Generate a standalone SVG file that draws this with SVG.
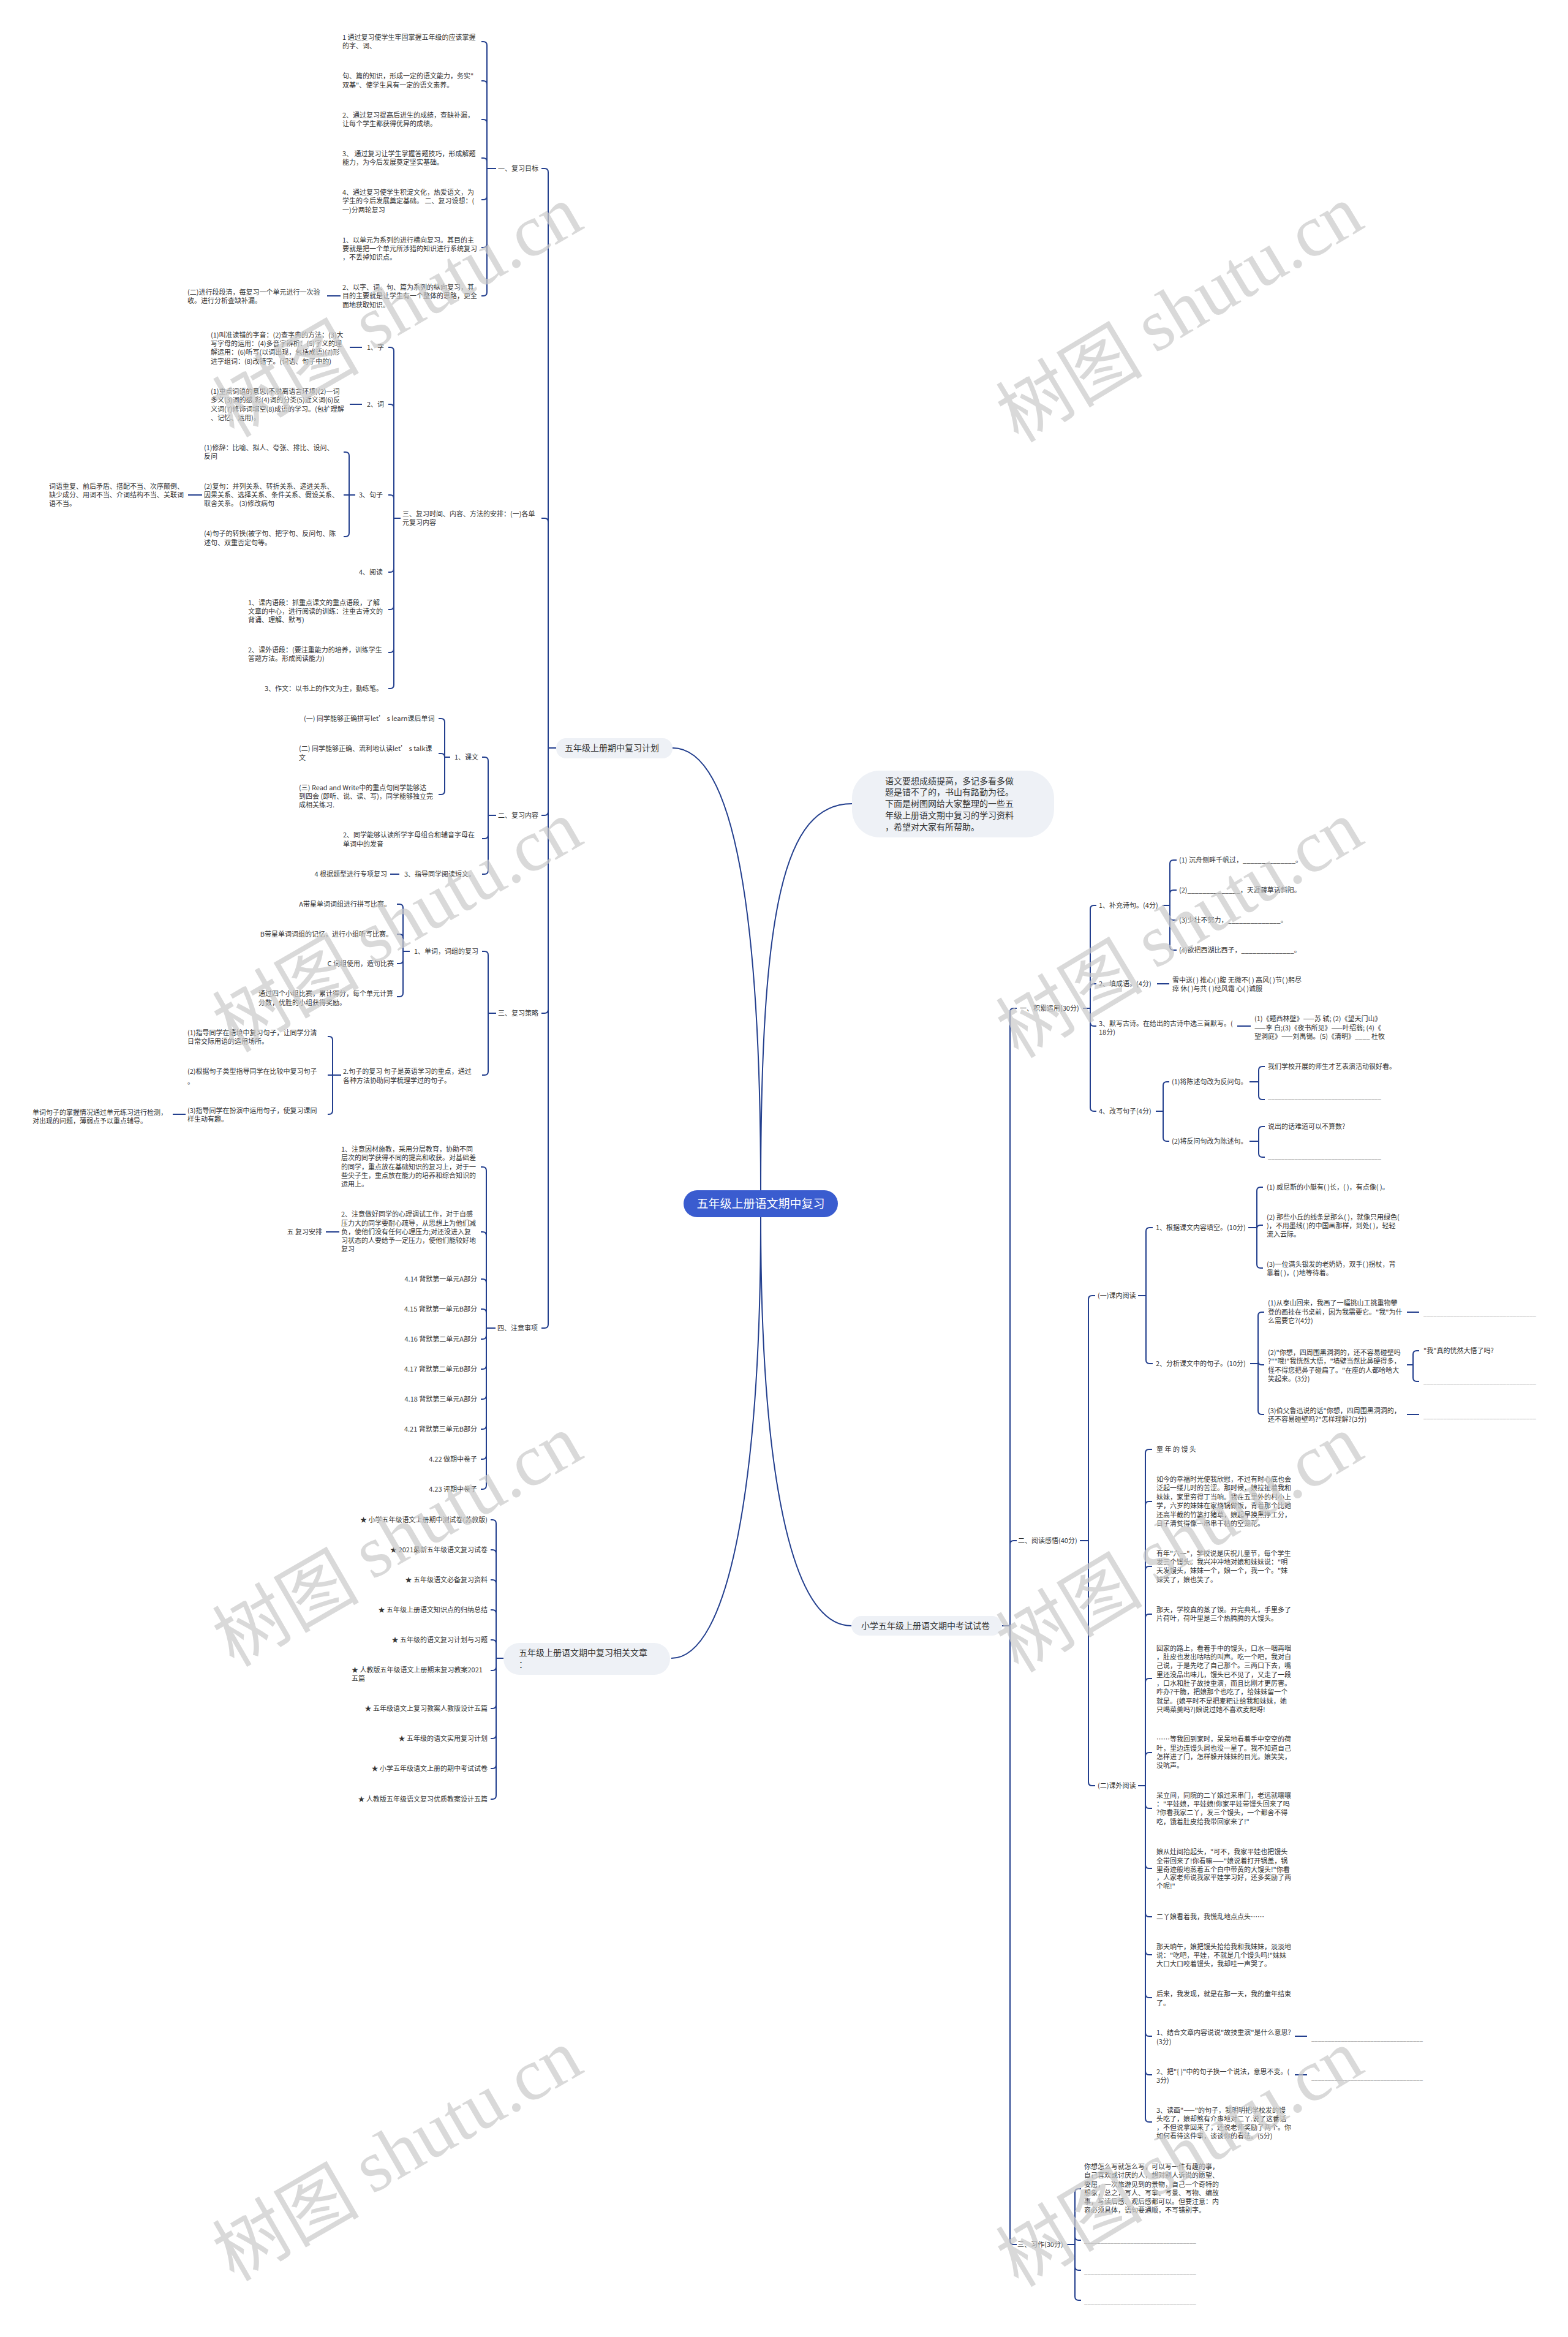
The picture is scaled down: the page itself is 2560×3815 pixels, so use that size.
<svg xmlns="http://www.w3.org/2000/svg" width="2560" height="3815" viewBox="0 0 2560 3815">
<style>
text { font-family: "Noto Sans CJK SC", "Noto Sans", sans-serif; font-size: 11px; fill: #333; }
.e { text-anchor: end; }
.m { font-size: 14px; }
.rt { font-size: 19px; fill: #fff; text-anchor: middle; }
.bl { fill: #999; }
.nd { fill: #eef1f6; }
#connectors path { fill: none; stroke: #233f8e; stroke-width: 2; }
.wm text { font-size: 120px; fill: #c9c9c9; fill-opacity: 0.7; text-anchor: middle; dominant-baseline: central; }
</style>
<rect width="2560" height="3815" fill="#fff"/>
<g id="connectors">
<path d="M1242 1943C1242 1500 1200 1221 1098 1221"/>
<path d="M1242 1943C1242 1480 1280 1312 1391 1312"/>
<path d="M1242 1987C1242 2420 1190 2707 1096 2707"/>
<path d="M1242 1987C1242 2400 1290 2654 1390 2654"/>
<path d="M908 1221H895V281Q895 275 889 275H884"/>
<path d="M908 1221H895V852Q895 846 889 846H884"/>
<path d="M908 1221H895V1325Q895 1331 889 1331H884"/>
<path d="M908 1221H895V1648Q895 1654 889 1654H884"/>
<path d="M908 1221H895V2162Q895 2168 889 2168H884"/>
<path d="M810 275H795V74Q795 68 789 68H786"/>
<path d="M810 275H795V138Q795 132 789 132H786"/>
<path d="M810 275H795V201Q795 195 789 195H786"/>
<path d="M810 275H795V264Q795 258 789 258H786"/>
<path d="M810 275H795V320Q795 326 789 326H786"/>
<path d="M810 275H795V398Q795 404 789 404H786"/>
<path d="M810 275H795V477Q795 483 789 483H786"/>
<path d="M556 483H534"/>
<path d="M654 846H643V573Q643 567 637 567H634"/>
<path d="M654 846H643V666Q643 660 637 660H634"/>
<path d="M654 846H643V814Q643 808 637 808H634"/>
<path d="M654 846H643V928Q643 934 637 934H634"/>
<path d="M654 846H643V989Q643 995 637 995H634"/>
<path d="M654 846H643V1059Q643 1065 637 1065H634"/>
<path d="M654 846H643V1118Q643 1124 637 1124H634"/>
<path d="M591 567H571"/>
<path d="M591 660H571"/>
<path d="M580 808H570V744Q570 738 564 738H561"/>
<path d="M580 808H561"/>
<path d="M580 808H570V870Q570 876 564 876H561"/>
<path d="M330 808H307"/>
<path d="M810 1331H797V1242Q797 1236 791 1236H787"/>
<path d="M810 1331H797V1363Q797 1369 791 1369H787"/>
<path d="M810 1331H797V1421Q797 1427 791 1427H787"/>
<path d="M735 1236H726V1179Q726 1173 720 1173H716"/>
<path d="M735 1236H726Q726 1230 720 1230H716"/>
<path d="M735 1236H726V1291Q726 1297 720 1297H716"/>
<path d="M652 1427H637"/>
<path d="M810 1654H797V1559Q797 1553 791 1553H787"/>
<path d="M810 1654H797V1749Q797 1755 791 1755H787"/>
<path d="M669 1553H658V1482Q658 1476 652 1476H648"/>
<path d="M669 1553H658V1531Q658 1525 652 1525H648"/>
<path d="M669 1553H658V1567Q658 1573 652 1573H648"/>
<path d="M669 1553H658V1621Q658 1627 652 1627H648"/>
<path d="M557 1755H543V1698Q543 1692 537 1692H535"/>
<path d="M557 1755H535"/>
<path d="M557 1755H543V1813Q543 1819 537 1819H535"/>
<path d="M303 1819H282"/>
<path d="M809 2168H794V1911Q794 1905 788 1905H785"/>
<path d="M809 2168H794V2017Q794 2011 788 2011H785"/>
<path d="M809 2168H794V2094Q794 2088 788 2088H785"/>
<path d="M809 2168H794V2143Q794 2137 788 2137H785"/>
<path d="M809 2168H794V2180Q794 2186 788 2186H785"/>
<path d="M809 2168H794V2229Q794 2235 788 2235H785"/>
<path d="M809 2168H794V2278Q794 2284 788 2284H785"/>
<path d="M809 2168H794V2327Q794 2333 788 2333H785"/>
<path d="M809 2168H794V2376Q794 2382 788 2382H785"/>
<path d="M809 2168H794V2425Q794 2431 788 2431H785"/>
<path d="M554 2011H532"/>
<path d="M822 2707H810V2487Q810 2481 804 2481H801"/>
<path d="M822 2707H810V2536Q810 2530 804 2530H801"/>
<path d="M822 2707H810V2585Q810 2579 804 2579H801"/>
<path d="M822 2707H810V2634Q810 2628 804 2628H801"/>
<path d="M822 2707H810V2683Q810 2677 804 2677H801"/>
<path d="M822 2707H810V2721Q810 2727 804 2727H801"/>
<path d="M822 2707H810V2783Q810 2789 804 2789H801"/>
<path d="M822 2707H810V2832Q810 2838 804 2838H801"/>
<path d="M822 2707H810V2881Q810 2887 804 2887H801"/>
<path d="M822 2707H810V2931Q810 2937 804 2937H801"/>
<path d="M1636 2654H1649V1652Q1649 1646 1655 1646H1660"/>
<path d="M1636 2654H1649V2521Q1649 2515 1655 2515H1660"/>
<path d="M1636 2654H1649V3658Q1649 3664 1655 3664H1660"/>
<path d="M1768 1646H1780V1484Q1780 1478 1786 1478H1790"/>
<path d="M1768 1646H1780V1612Q1780 1606 1786 1606H1790"/>
<path d="M1768 1646H1780V1669Q1780 1675 1786 1675H1790"/>
<path d="M1768 1646H1780V1808Q1780 1814 1786 1814H1790"/>
<path d="M1898 1478H1910V1410Q1910 1404 1916 1404H1921"/>
<path d="M1898 1478H1910V1459Q1910 1453 1916 1453H1921"/>
<path d="M1898 1478H1910V1496Q1910 1502 1916 1502H1921"/>
<path d="M1898 1478H1910V1545Q1910 1551 1916 1551H1921"/>
<path d="M1889 1606H1909"/>
<path d="M2020 1675H2042"/>
<path d="M1887 1814H1899V1772Q1899 1766 1905 1766H1909"/>
<path d="M1887 1814H1899V1857Q1899 1863 1905 1863H1909"/>
<path d="M2040 1766H2055V1747Q2055 1741 2061 1741H2065"/>
<path d="M2040 1766H2055V1789Q2055 1795 2061 1795H2065"/>
<path d="M2040 1863H2055V1845Q2055 1839 2061 1839H2065"/>
<path d="M2040 1863H2055V1883Q2055 1889 2061 1889H2065"/>
<path d="M1763 2515H1777V2121Q1777 2115 1783 2115H1788"/>
<path d="M1763 2515H1777V2909Q1777 2915 1783 2915H1788"/>
<path d="M1858 2115H1871V2010Q1871 2004 1877 2004H1882"/>
<path d="M1858 2115H1871V2220Q1871 2226 1877 2226H1882"/>
<path d="M2038 2004H2052V1944Q2052 1938 2058 1938H2062"/>
<path d="M2038 2004H2052V2006Q2052 2000 2058 2000H2062"/>
<path d="M2038 2004H2052V2064Q2052 2070 2058 2070H2062"/>
<path d="M2041 2226H2054V2148Q2054 2142 2060 2142H2064"/>
<path d="M2041 2226H2054V2222Q2054 2228 2060 2228H2064"/>
<path d="M2041 2226H2054V2303Q2054 2309 2060 2309H2064"/>
<path d="M2297 2142H2317"/>
<path d="M2297 2228H2307V2211Q2307 2205 2313 2205H2317"/>
<path d="M2297 2228H2307V2249Q2307 2255 2313 2255H2317"/>
<path d="M2297 2309H2317"/>
<path d="M1858 2915H1870V2372Q1870 2366 1876 2366H1881"/>
<path d="M1858 2915H1870V2457Q1870 2451 1876 2451H1881"/>
<path d="M1858 2915H1870V2563Q1870 2557 1876 2557H1881"/>
<path d="M1858 2915H1870V2641Q1870 2635 1876 2635H1881"/>
<path d="M1858 2915H1870V2746Q1870 2740 1876 2740H1881"/>
<path d="M1858 2915H1870V2867Q1870 2861 1876 2861H1881"/>
<path d="M1858 2915H1870V2946Q1870 2952 1876 2952H1881"/>
<path d="M1858 2915H1870V3044Q1870 3050 1876 3050H1881"/>
<path d="M1858 2915H1870V3123Q1870 3129 1876 3129H1881"/>
<path d="M1858 2915H1870V3185Q1870 3191 1876 3191H1881"/>
<path d="M1858 2915H1870V3255Q1870 3261 1876 3261H1881"/>
<path d="M1858 2915H1870V3318Q1870 3324 1876 3324H1881"/>
<path d="M1858 2915H1870V3381Q1870 3387 1876 3387H1881"/>
<path d="M1858 2915H1870V3458Q1870 3464 1876 3464H1881"/>
<path d="M2114 3324H2134"/>
<path d="M2114 3387H2134"/>
<path d="M1742 3664H1755V3579Q1755 3573 1761 3573H1765"/>
<path d="M1742 3664H1755V3651Q1755 3657 1761 3657H1765"/>
<path d="M1742 3664H1755V3700Q1755 3706 1761 3706H1765"/>
<path d="M1742 3664H1755V3749Q1755 3755 1761 3755H1765"/>
</g>

<g id="root"><rect x="1116" y="1943" width="252" height="44" rx="22" fill="#3a5ccf"/><text class="rt" x="1242" y="1972">五年级上册语文期中复习</text></g>

<g id="plan"><rect class="nd" x="908" y="1205" width="190" height="33" rx="16"/><text class="m" x="922" y="1226">五年级上册期中复习计划</text></g>
<g id="intro"><rect class="nd" x="1391" y="1258" width="330" height="109" rx="45"/><text class="m"><tspan x="1445" y="1280">语文要想成绩提高，多记多看多做</tspan><tspan x="1445" y="1298">题是错不了的，书山有路勤为径。</tspan><tspan x="1445" y="1317">下面是树图网给大家整理的一些五</tspan><tspan x="1445" y="1336">年级上册语文期中复习的学习资料</tspan><tspan x="1445" y="1355">，希望对大家有所帮助。</tspan></text></g>
<g id="exam"><rect class="nd" x="1390" y="2638" width="246" height="32" rx="16"/><text class="m" x="1406" y="2659">小学五年级上册语文期中考试试卷</text></g>
<g id="related"><rect class="nd" x="822" y="2682" width="272" height="52" rx="26"/><text class="m"><tspan x="847" y="2703">五年级上册语文期中复习相关文章</tspan><tspan x="847" y="2722">：</tspan></text></g>

<g id="goal"><text class="e" x="879" y="279">一、复习目标</text></g>
<g id="goal1"><text><tspan x="559" y="65">1 通过复习使学生牢固掌握五年级的应该掌握</tspan><tspan x="559" y="79">的字、词、</tspan></text></g>
<g id="goal2"><text><tspan x="559" y="128">句、篇的知识，形成一定的语文能力，务实"</tspan><tspan x="559" y="143">双基"、使学生具有一定的语文素养。</tspan></text></g>
<g id="goal3"><text><tspan x="559" y="192">2、通过复习提高后进生的成绩，查缺补漏，</tspan><tspan x="559" y="206">让每个学生都获得优异的成绩。</tspan></text></g>
<g id="goal4"><text><tspan x="559" y="255">3、 通过复习让学生掌握答题技巧，形成解题</tspan><tspan x="559" y="269">能力，为今后发展奠定坚实基础。</tspan></text></g>
<g id="goal5"><text><tspan x="559" y="318">4、通过复习使学生积淀文化，热爱语文，为</tspan><tspan x="559" y="332">学生的今后发展奠定基础。 二、复习设想：(</tspan><tspan x="559" y="347">一)分两轮复习</tspan></text></g>
<g id="goal6"><text><tspan x="559" y="396">1、以单元为系列的进行横向复习。其目的主</tspan><tspan x="559" y="410">要就是把一个单元所涉猎的知识进行系统复习</tspan><tspan x="559" y="424">，不丢掉知识点。</tspan></text></g>
<g id="goal7"><text><tspan x="559" y="473">2、以字、词、句、篇为系列的纵向复习，其</tspan><tspan x="559" y="487">目的主要就是让学生有一个整体的思路，更全</tspan><tspan x="559" y="502">面地获取知识。</tspan></text></g>
<g id="goal7a"><text><tspan x="306" y="481">(二)进行段段清，每复习一个单元进行一次验</tspan><tspan x="306" y="495">收。进行分析查缺补漏。</tspan></text></g>

<g id="arr"><text><tspan x="657" y="843">三、复习时间、内容、方法的安排：(一)各单</tspan><tspan x="657" y="857">元复习内容</tspan></text></g>
<g id="zi"><text class="e" x="627" y="571">1、字</text></g>
<g id="zi1"><text><tspan x="344" y="551">(1)叫准读错的字音：(2)查字典的方法：(3)大</tspan><tspan x="344" y="565">写字母的运用：(4)多音字辨析：(5)字义的理</tspan><tspan x="344" y="579">解运用：(6)听写(以词出现，包括成语)(7)形</tspan><tspan x="344" y="594">进字组词：(8)改错字。(词语、句子中的)</tspan></text></g>
<g id="ci"><text class="e" x="627" y="664">2、词</text></g>
<g id="ci1"><text><tspan x="344" y="643">(1)重点词语的意思(不脱离语言环境)(2)一词</tspan><tspan x="344" y="657">多义(3)词的感.彩(4)词的分类(5)近义词(6)反</tspan><tspan x="344" y="672">义词(7)修饰词填空(8)成语的学习。(包扩理解</tspan><tspan x="344" y="686">、记忆、运用)。</tspan></text></g>
<g id="ju"><text class="e" x="625" y="812">3、句子</text></g>
<g id="ju1"><text><tspan x="333" y="735">(1)修辞：比喻、拟人、夸张、排比、设问、</tspan><tspan x="333" y="749">反问</tspan></text></g>
<g id="ju2"><text><tspan x="333" y="798">(2)复句：并列关系、转折关系、递进关系、</tspan><tspan x="333" y="812">因果关系、选择关系、条件关系、假设关系、</tspan><tspan x="333" y="826">取舍关系。 (3)修改病句</tspan></text></g>
<g id="ju2a"><text><tspan x="80" y="798">词语重复、前后矛盾、搭配不当、次序颠倒、</tspan><tspan x="80" y="812">缺少成分、用词不当、介词结构不当、关联词</tspan><tspan x="80" y="826">语不当。</tspan></text></g>
<g id="ju3"><text><tspan x="333" y="875">(4)句子的转换(被字句、把字句、反问句、陈</tspan><tspan x="333" y="890">述句、双重否定句等。</tspan></text></g>
<g id="yd"><text class="e" x="625" y="938">4、阅读</text></g>
<g id="kn"><text><tspan x="405" y="988">1、课内语段：抓重点课文的重点语段，了解</tspan><tspan x="405" y="1002">文章的中心，进行阅读的训练：注重古诗文的</tspan><tspan x="405" y="1016">背诵、理解、默写)</tspan></text></g>
<g id="kw"><text><tspan x="405" y="1065">2、课外语段：(要注重能力的培养，训练学生</tspan><tspan x="405" y="1079">答题方法。形成阅读能力)</tspan></text></g>
<g id="zw"><text class="e" x="625" y="1128">3、作文：以书上的作文为主，勤练笔。</text></g>

<g id="content"><text class="e" x="879" y="1335">二、复习内容</text></g>
<g id="kewen"><text class="e" x="781" y="1240">1、课文</text></g>
<g id="kw1"><text x="496" y="1177">(一) 同学能够正确拼写let’ s learn课后单词</text></g>
<g id="kw2"><text><tspan x="488" y="1226">(二) 同学能够正确、流利地认读let’ s talk课</tspan><tspan x="488" y="1241">文</tspan></text></g>
<g id="kw3"><text><tspan x="488" y="1290">(三) Read and Write中的重点句同学能够达</tspan><tspan x="488" y="1304">到四会 (即听、说、读、写)，同学能够独立完</tspan><tspan x="488" y="1318">成相关练习.</tspan></text></g>
<g id="c2"><text><tspan x="560" y="1367">2、同学能够认读所学字母组合和辅音字母在</tspan><tspan x="560" y="1382">单词中的发音</tspan></text></g>
<g id="c3"><text class="e" x="776" y="1431">3、指导同学阅读短文。</text></g>
<g id="c3a"><text class="e" x="632" y="1431">4 根据题型进行专项复习</text></g>

<g id="strategy"><text class="e" x="879" y="1658">三、复习策略</text></g>
<g id="s1"><text class="e" x="781" y="1557">1、单词，词组的复习</text></g>
<g id="s1a"><text class="e" x="638" y="1480">A带星单词词组进行拼写比赛。</text></g>
<g id="s1b"><text class="e" x="641" y="1529">B带星单词词组的记忆，进行小组听写比赛。</text></g>
<g id="s1c"><text class="e" x="643" y="1577">C 词组使用，造句比赛</text></g>
<g id="s1d"><text><tspan x="422" y="1626">通过四个小组比赛，累计得分，每个单元计算</tspan><tspan x="422" y="1641">分数，优胜的小组获得奖励。</tspan></text></g>
<g id="s2"><text><tspan x="560" y="1753">2.句子的复习 句子是英语学习的重点，通过</tspan><tspan x="560" y="1768">各种方法协助同学梳理学过的句子。</tspan></text></g>
<g id="s2a"><text><tspan x="306" y="1690">(1)指导同学在语境中复习句子，让同学分清</tspan><tspan x="306" y="1704">日常交际用语的运用场所。</tspan></text></g>
<g id="s2b"><text><tspan x="306" y="1753">(2)根据句子类型指导同学在比较中复习句子</tspan><tspan x="306" y="1770">。</tspan></text></g>
<g id="s2c"><text><tspan x="306" y="1817">(3)指导同学在扮演中运用句子，使复习课同</tspan><tspan x="306" y="1831">样生动有趣。</tspan></text></g>
<g id="s2c1"><text><tspan x="53" y="1820">单词句子的掌握情况通过单元练习进行检测，</tspan><tspan x="53" y="1834">对出现的问题，薄弱点予以重点辅导。</tspan></text></g>

<g id="notice"><text class="e" x="878" y="2172">四、注意事项</text></g>
<g id="n1"><text><tspan x="557" y="1880">1、注意因材施教，采用分层教育，协助不同</tspan><tspan x="557" y="1894">层次的同学获得不同的提高和收获。对基础差</tspan><tspan x="557" y="1909">的同学，重点放在基础知识的复习上，对于一</tspan><tspan x="557" y="1923">些尖子生，重点放在能力的培养和综合知识的</tspan><tspan x="557" y="1937">运用上。</tspan></text></g>
<g id="n2"><text><tspan x="557" y="1986">2、注意做好同学的心理调试工作，对于自感</tspan><tspan x="557" y="2001">压力大的同学要耐心疏导，从思想上为他们减</tspan><tspan x="557" y="2015">负，使他们没有任何心理压力;对还没进入复</tspan><tspan x="557" y="2029">习状态的人要给予一定压力，使他们能较好地</tspan><tspan x="557" y="2043">复习</tspan></text></g>
<g id="n2a"><text class="e" x="526" y="2015">五 复习安排</text></g>
<g id="d1"><text class="e" x="779" y="2092">4.14 背默第一单元A部分</text></g>
<g id="d2"><text class="e" x="779" y="2141">4.15 背默第一单元B部分</text></g>
<g id="d3"><text class="e" x="779" y="2190">4.16 背默第二单元A部分</text></g>
<g id="d4"><text class="e" x="779" y="2239">4.17 背默第二单元B部分</text></g>
<g id="d5"><text class="e" x="779" y="2288">4.18 背默第三单元A部分</text></g>
<g id="d6"><text class="e" x="779" y="2337">4.21 背默第三单元B部分</text></g>
<g id="d7"><text class="e" x="779" y="2386">4.22 做期中卷子</text></g>
<g id="d8"><text class="e" x="779" y="2435">4.23 评期中卷子</text></g>

<g id="r1"><text class="e" x="796" y="2485">★ 小学五年级语文上册期中测试卷(苏教版)</text></g>
<g id="r2"><text class="e" x="796" y="2534">★ 2021最新五年级语文复习试卷</text></g>
<g id="r3"><text class="e" x="796" y="2583">★ 五年级语文必备复习资料</text></g>
<g id="r4"><text class="e" x="796" y="2632">★ 五年级上册语文知识点的归纳总结</text></g>
<g id="r5"><text class="e" x="796" y="2681">★ 五年级的语文复习计划与习题</text></g>
<g id="r6"><text><tspan x="574" y="2730">★ 人教版五年级语文上册期末复习教案2021</tspan><tspan x="574" y="2744">五篇</tspan></text></g>
<g id="r7"><text class="e" x="796" y="2793">★ 五年级语文上复习教案人教版设计五篇</text></g>
<g id="r8"><text class="e" x="796" y="2842">★ 五年级的语文实用复习计划</text></g>
<g id="r9"><text class="e" x="796" y="2891">★ 小学五年级语文上册的期中考试试卷</text></g>
<g id="r10"><text class="e" x="796" y="2941">★ 人教版五年级语文复习优质教案设计五篇</text></g>

<g id="p1"><text x="1665" y="1650">一、积累运用(30分)</text></g>
<g id="p11"><text x="1794" y="1482">1、补充诗句。(4分)</text></g>
<g id="p11a"><text x="1925" y="1408">(1) 沉舟侧畔千帆过，______________。</text></g>
<g id="p11b"><text x="1925" y="1457">(2)______________，天涯碧草话斜阳。</text></g>
<g id="p11c"><text x="1925" y="1506">(3)少壮不努力，______________。</text></g>
<g id="p11d"><text x="1925" y="1555">(4)欲把西湖比西子，______________。</text></g>
<g id="p12"><text x="1794" y="1610">2、填成语。(4分)</text></g>
<g id="p12a"><text><tspan x="1914" y="1604">雪中送( ) 推心( )腹 无微不( ) 高风( )节( )躬尽</tspan><tspan x="1914" y="1618">瘁 休( )与共 ( )经风霜 心( )诚服</tspan></text></g>
<g id="p13"><text><tspan x="1794" y="1675">3、默写古诗。在给出的古诗中选三首默写。(</tspan><tspan x="1794" y="1689">18分)</tspan></text></g>
<g id="p13a"><text><tspan x="2048" y="1667">(1)《题西林壁》——苏 轼; (2)《望天门山》</tspan><tspan x="2048" y="1682">——李 白;(3)《夜书所见》——叶绍翁; (4)《</tspan><tspan x="2048" y="1696">望洞庭》——刘禹锡。(5)《清明》____ 杜牧</tspan></text></g>
<g id="p14"><text x="1794" y="1818">4、改写句子(4分)</text></g>
<g id="p14a"><text x="1913" y="1770">(1)将陈述句改为反问句。</text></g>
<g id="p14a1"><text x="2070" y="1745">我们学校开展的师生才艺表演活动很好看。</text></g>
<g id="p14a2"><text class="bl" x="2070" y="1793" textLength="185" lengthAdjust="spacingAndGlyphs">__________________________________</text></g>
<g id="p14b"><text x="1913" y="1867">(2)将反问句改为陈述句。</text></g>
<g id="p14b1"><text x="2070" y="1843">说出的话难道可以不算数?</text></g>
<g id="p14b2"><text class="bl" x="2070" y="1891" textLength="185" lengthAdjust="spacingAndGlyphs">__________________________________</text></g>

<g id="p2"><text x="1662" y="2519">二、阅读感悟(40分)</text></g>
<g id="p21"><text x="1792" y="2119">(一)课内阅读</text></g>
<g id="p211"><text x="1887" y="2008">1、根据课文内容填空。(10分)</text></g>
<g id="p211a"><text x="2068" y="1942">(1) 威尼斯的小艇有( )长，( )，有点像( )。</text></g>
<g id="p211b"><text><tspan x="2068" y="1991">(2) 那些小丘的线条是那么( )，就像只用绿色(</tspan><tspan x="2068" y="2005">)，不用墨线( )的中国画那样，到处( )，轻轻</tspan><tspan x="2068" y="2019">流入云际。</tspan></text></g>
<g id="p211c"><text><tspan x="2068" y="2068">(3)一位满头银发的老奶奶，双手( )拐杖，背</tspan><tspan x="2068" y="2082">靠着( )，( )地等待着。</tspan></text></g>
<g id="p212"><text x="1887" y="2230">2、分析课文中的句子。(10分)</text></g>
<g id="p212a"><text><tspan x="2070" y="2131">(1)从泰山回来，我画了一幅挑山工挑重物攀</tspan><tspan x="2070" y="2146">登的画挂在书桌前，因为我需要它。"我"为什</tspan><tspan x="2070" y="2160">么需要它?(4分)</tspan></text></g>
<g id="p212a1"><text class="bl" x="2324" y="2147" textLength="184" lengthAdjust="spacingAndGlyphs">__________________________________</text></g>
<g id="p212b"><text><tspan x="2070" y="2212">(2)"你想，四周围黑洞洞的，还不容易碰壁吗</tspan><tspan x="2070" y="2226">?""哦!"我恍然大悟，"墙壁当然比鼻硬得多，</tspan><tspan x="2070" y="2241">怪不得您把鼻子碰扁了。"在座的人都哈哈大</tspan><tspan x="2070" y="2255">笑起来。(3分)</tspan></text></g>
<g id="p212b1"><text x="2324" y="2209">"我"真的恍然大悟了吗?</text></g>
<g id="p212b2"><text class="bl" x="2324" y="2258" textLength="184" lengthAdjust="spacingAndGlyphs">__________________________________</text></g>
<g id="p212c"><text><tspan x="2070" y="2307">(3)伯父鲁迅说的话"你想，四周围黑洞洞的，</tspan><tspan x="2070" y="2321">还不容易碰壁吗?"怎样理解?(3分)</tspan></text></g>
<g id="p212c1"><text class="bl" x="2324" y="2315" textLength="184" lengthAdjust="spacingAndGlyphs">__________________________________</text></g>

<g id="p22"><text x="1792" y="2919">(二)课外阅读</text></g>
<g id="q1"><text x="1888" y="2370">童 年 的 馒 头</text></g>
<g id="q2"><text><tspan x="1888" y="2419">如今的幸福时光使我欣慰，不过有时心底也会</tspan><tspan x="1888" y="2433">泛起一缕儿时的苦涩。那时候，娘拉扯着我和</tspan><tspan x="1888" y="2448">妹妹，家里穷得丁当响。我在五里外的村小上</tspan><tspan x="1888" y="2462">学，六岁的妹妹在家烧锅做饭，背着那个比她</tspan><tspan x="1888" y="2477">还高半截的竹篓打猪草，娘起早摸黑挣工分，</tspan><tspan x="1888" y="2491">日子清贫得像一串串干枯的空笼花。</tspan></text></g>
<g id="q3"><text><tspan x="1888" y="2540">有年"六一"，学校说是庆祝儿童节，每个学生</tspan><tspan x="1888" y="2554">发三个馒头。我兴冲冲地对娘和妹妹说："明</tspan><tspan x="1888" y="2568">天发馒头，妹妹一个，娘一个，我一个。"妹</tspan><tspan x="1888" y="2583">妹笑了，娘也笑了。</tspan></text></g>
<g id="q4"><text><tspan x="1888" y="2632">那天，学校真的蒸了馍。开完典礼，手里多了</tspan><tspan x="1888" y="2646">片荷叶，荷叶里是三个热腾腾的大馒头。</tspan></text></g>
<g id="q5"><text><tspan x="1888" y="2695">回家的路上，看着手中的馒头，口水一咽再咽</tspan><tspan x="1888" y="2709">，肚皮也发出咕咕的叫声。吃一个吧，我对自</tspan><tspan x="1888" y="2723">己说，于是先吃了自己那个。三两口下去，嘴</tspan><tspan x="1888" y="2738">里还没品出味儿，馒头已不见了，又走了一段</tspan><tspan x="1888" y="2752">，口水和肚子故技重演，而且比刚才更厉害。</tspan><tspan x="1888" y="2766">咋办?干脆，把娘那个也吃了，给妹妹留一个</tspan><tspan x="1888" y="2781">就是。{娘平时不是把麦粑让给我和妹妹，她</tspan><tspan x="1888" y="2795">只喝菜羹吗?}娘说过她不喜欢麦粑呀!</tspan></text></g>
<g id="q6"><text><tspan x="1888" y="2843">……等我回到家时，呆呆地看着手中空空的荷</tspan><tspan x="1888" y="2858">叶，里边连馒头屑也没一星了。我不知道自己</tspan><tspan x="1888" y="2872">怎样进了门，怎样躲开妹妹的目光。娘笑笑，</tspan><tspan x="1888" y="2886">没吭声。</tspan></text></g>
<g id="q7"><text><tspan x="1888" y="2935">呆立间，同院的二丫娘过来串门，老远就嚷嚷</tspan><tspan x="1888" y="2949">："平娃娘，平娃娘!你家平娃带馒头回来了吗</tspan><tspan x="1888" y="2963">?你看我家二丫，发三个馒头，一个都舍不得</tspan><tspan x="1888" y="2978">吃，饿着肚皮给我带回家来了!"</tspan></text></g>
<g id="q8"><text><tspan x="1888" y="3027">娘从灶间抬起头，"可不，我家平娃也把馒头</tspan><tspan x="1888" y="3042">全带回来了!你看嘛——"娘说着打开锅盖，锅</tspan><tspan x="1888" y="3056">里奇迹般地蒸着五个白中带黄的大馒头!"你看</tspan><tspan x="1888" y="3069">，人家老师说我家平娃学习好，还多奖励了两</tspan><tspan x="1888" y="3083">个呢!"</tspan></text></g>
<g id="q9"><text x="1888" y="3133">二丫娘看着我，我慌乱地点点头……</text></g>
<g id="q10"><text><tspan x="1888" y="3182">那天晌午，娘把馒头拾给我和我妹妹，淡淡地</tspan><tspan x="1888" y="3196">说："吃吧，平娃，不就是几个馒头吗!"妹妹</tspan><tspan x="1888" y="3210">大口大口咬着馒头，我却哇一声哭了。</tspan></text></g>
<g id="q11"><text><tspan x="1888" y="3259">后来，我发现，就是在那一天，我的童年结束</tspan><tspan x="1888" y="3274">了。</tspan></text></g>
<g id="q12"><text><tspan x="1888" y="3322">1、结合文章内容说说"故技重演"是什么意思?</tspan><tspan x="1888" y="3337">(3分)</tspan></text></g>
<g id="q12a"><text class="bl" x="2141" y="3331" textLength="182" lengthAdjust="spacingAndGlyphs">__________________________________</text></g>
<g id="q13"><text><tspan x="1888" y="3386">2、把"{ }"中的句子换一个说法，意思不变。(</tspan><tspan x="1888" y="3400">3分)</tspan></text></g>
<g id="q13a"><text class="bl" x="2141" y="3395" textLength="182" lengthAdjust="spacingAndGlyphs">__________________________________</text></g>
<g id="q14"><text><tspan x="1888" y="3449">3、读画"——"的句子，我明明把学校发的馒</tspan><tspan x="1888" y="3463">头吃了，娘却煞有介事地对二丫.说了这番话</tspan><tspan x="1888" y="3477">，不但说拿回来了，还说老师奖励了两个。你</tspan><tspan x="1888" y="3491">如何看待这件事，谈谈你的看法。(5分)</tspan></text></g>

<g id="p3"><text x="1661" y="3668">三、习作(30分)</text></g>
<g id="p3a"><text><tspan x="1770" y="3541">你想怎么写就怎么写，可以写一件有趣的事，</tspan><tspan x="1770" y="3555">自己喜欢或讨厌的人，想对别人诉说的愿望、</tspan><tspan x="1770" y="3570">委屈，一次旅游见到的景物，自己一个奇特的</tspan><tspan x="1770" y="3584">想象，总之，写人、写事、写景、写物、编故</tspan><tspan x="1770" y="3598">事，写读后感、观后感都可以。但要注意：内</tspan><tspan x="1770" y="3612">容必须具体，语句要通顺，不写错别字。</tspan></text></g>
<g id="p3b"><text class="bl" x="1770" y="3661" textLength="183" lengthAdjust="spacingAndGlyphs">__________________________________</text></g>
<g id="p3c"><text class="bl" x="1770" y="3711" textLength="183" lengthAdjust="spacingAndGlyphs">__________________________________</text></g>
<g id="p3d"><text class="bl" x="1770" y="3761" textLength="183" lengthAdjust="spacingAndGlyphs">__________________________________</text></g>

<g class="wm">
<text transform="translate(646 503) rotate(-30)">树图 <tspan font-family="Liberation Serif">shutu.cn</tspan></text>
<text transform="translate(646 1507) rotate(-30)">树图 <tspan font-family="Liberation Serif">shutu.cn</tspan></text>
<text transform="translate(646 2510) rotate(-30)">树图 <tspan font-family="Liberation Serif">shutu.cn</tspan></text>
<text transform="translate(646 3513) rotate(-30)">树图 <tspan font-family="Liberation Serif">shutu.cn</tspan></text>
<text transform="translate(1923 507) rotate(-31)">树图 <tspan font-family="Liberation Serif">shutu.cn</tspan></text>
<text transform="translate(1923 1512) rotate(-31)">树图 <tspan font-family="Liberation Serif">shutu.cn</tspan></text>
<text transform="translate(1923 2515) rotate(-31)">树图 <tspan font-family="Liberation Serif">shutu.cn</tspan></text>
<text transform="translate(1923 3518) rotate(-31)">树图 <tspan font-family="Liberation Serif">shutu.cn</tspan></text>
</g>
</svg>
